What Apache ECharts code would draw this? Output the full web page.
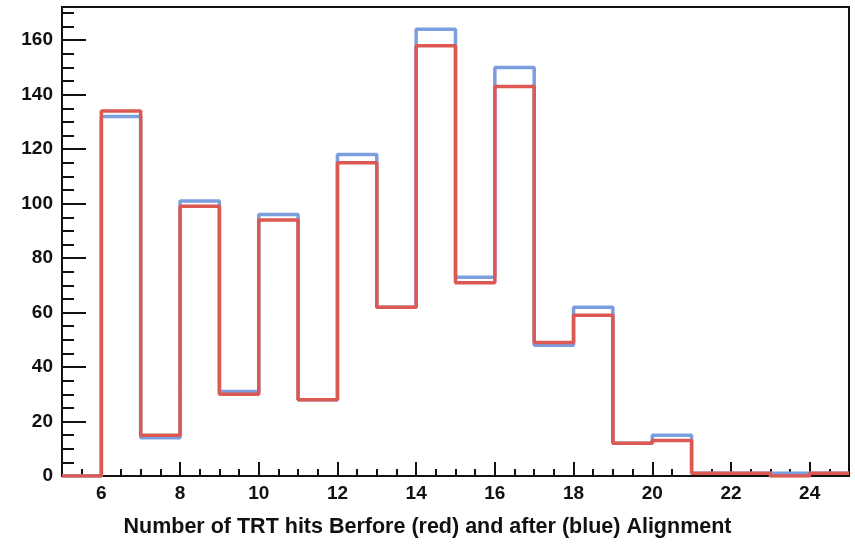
<!DOCTYPE html>
<html>
<head>
<meta charset="utf-8">
<script src="https://cdn.jsdelivr.net/npm/echarts@6/dist/echarts.min.js"></script>
<style>
  html, body { margin: 0; padding: 0; background: #fff; }
  #chart { width: 855px; height: 544px; }
</style>
</head>
<body>
<div id="chart"></div>
<script>
// Histogram of TRT hits per track, before and after alignment (bin width 1)
const binLowEdges = [5, 6, 7, 8, 9, 10, 11, 12, 13, 14, 15, 16, 17, 18, 19, 20, 21, 22, 23, 24];
const binUpperEdge = 25;
const hitsBefore = [0, 134, 15, 99, 30, 94, 28, 115, 62, 158, 71, 143, 49, 59, 12, 13, 1, 1, 0, 1];   // red
const hitsAfter  = [0, 132, 14, 101, 31, 96, 28, 118, 62, 164, 73, 150, 48, 62, 12, 15, 1, 1, 1, 1];  // blue

const xLabelValues = [6, 8, 10, 12, 14, 16, 18, 20, 22, 24];
const yLabelValues = [0, 20, 40, 60, 80, 100, 120, 140, 160];
const yMinorValues = [5, 10, 15, 25, 30, 35, 45, 50, 55, 65, 70, 75, 85, 90, 95, 105, 110, 115, 125, 130, 135, 145, 150, 155, 165, 170];
const yMax = 164 * 1.05;
const axisTitle = 'Number of TRT hits Berfore (red) and after (blue) Alignment';

// step outline: one point per bin low edge, closed at the last upper edge
function outline(values) {
  const pts = binLowEdges.map((x, i) => [x, values[i]]);
  pts.push([binUpperEdge, values[values.length - 1]]);
  return pts;
}

const FONT = '"Liberation Sans", Arial, Helvetica, sans-serif';
const chart = echarts.init(document.getElementById('chart'), null, { renderer: 'canvas' });

chart.setOption({
  animation: false,
  backgroundColor: '#ffffff',
  title: {
    text: axisTitle,
    left: 'center',
    top: 516,
    padding: 0,
    textStyle: { fontFamily: FONT, fontWeight: 'bold', fontSize: 21.5, color: '#111' }
  },
  grid: {
    left: 62, right: 6, top: 7, bottom: 68,
    show: true, borderColor: '#111', borderWidth: 2, backgroundColor: 'transparent'
  },
  xAxis: [
    {
      type: 'value', min: 5, max: 25, position: 'bottom',
      axisLine: { show: true, onZero: false, lineStyle: { color: '#111', width: 2 } },
      axisTick: { show: true, inside: true, length: 14, customValues: xLabelValues, lineStyle: { color: '#111', width: 2 } },
      axisLabel: { show: true, customValues: xLabelValues, margin: 8, fontFamily: FONT, fontWeight: 'bold', fontSize: 19, color: '#111' },
      splitLine: { show: false }
    },
    {
      type: 'value', min: 5, max: 25, interval: 0.5, position: 'bottom',
      axisLine: { show: false, onZero: false },
      axisTick: { show: true, inside: true, length: 7, lineStyle: { color: '#111', width: 2 } },
      axisLabel: { show: false },
      splitLine: { show: false }
    }
  ],
  yAxis: [
    {
      type: 'value', min: 0, max: yMax, position: 'left',
      axisLine: { show: true, onZero: false, lineStyle: { color: '#111', width: 2 } },
      axisTick: { show: true, inside: true, length: 24, customValues: yLabelValues, lineStyle: { color: '#111', width: 2 } },
      axisLabel: { show: true, customValues: yLabelValues, margin: 9, fontFamily: FONT, fontWeight: 'bold', fontSize: 19, color: '#111' },
      splitLine: { show: false }
    },
    {
      type: 'value', min: 0, max: yMax, position: 'left',
      axisLine: { show: false, onZero: false },
      axisTick: { show: true, inside: true, length: 12, customValues: yMinorValues, lineStyle: { color: '#111', width: 2 } },
      axisLabel: { show: false },
      splitLine: { show: false }
    }
  ],
  series: [
    {
      name: 'after', type: 'line', step: 'end', xAxisIndex: 0, yAxisIndex: 0,
      data: outline(hitsAfter), showSymbol: false, symbol: 'none',
      lineStyle: { color: '#7c9ede', width: 3.5 }, z: 3
    },
    {
      name: 'before', type: 'line', step: 'end', xAxisIndex: 0, yAxisIndex: 0,
      data: outline(hitsBefore), showSymbol: false, symbol: 'none',
      lineStyle: { color: '#dc5852', width: 3.5 }, z: 4
    }
  ]
});
</script>
</body>
</html>
